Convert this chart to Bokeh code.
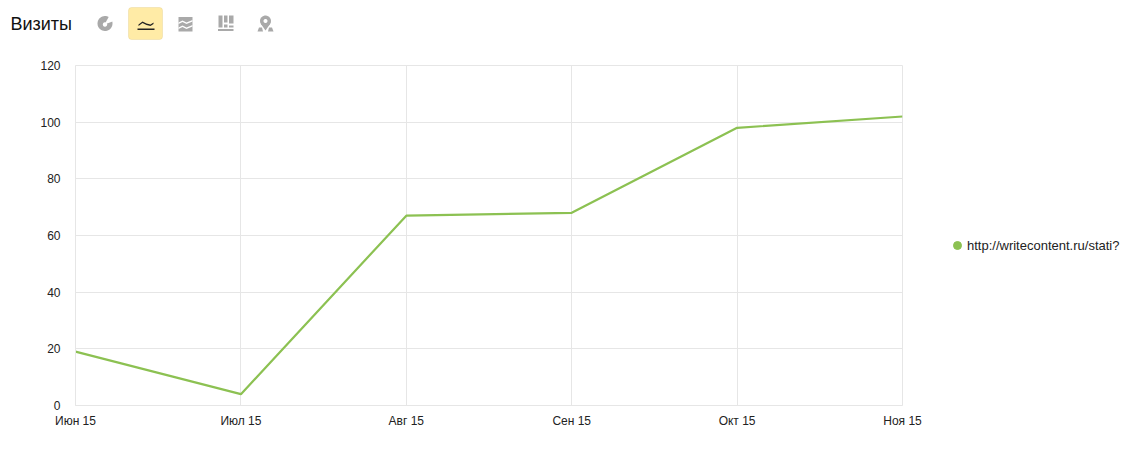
from bokeh.plotting import figure
from bokeh.models import Range1d, FixedTicker, Legend, LegendItem, BoxAnnotation
from bokeh.core.properties import value
from bokeh.layouts import column, row
from bokeh.embed import file_html
from bokeh.resources import INLINE
import numpy as np

title = "Визиты"
months = ["Июн 15", "Июл 15", "Авг 15", "Сен 15", "Окт 15", "Ноя 15"]
visits = [19, 4, 67, 68, 98, 102]
y_ticks = [0, 20, 40, 60, 80, 100, 120]
series_name = "http://writecontent.ru/stati?"

font = "Liberation Sans"
green = "#8cc152"
grid = "#e6e6e6"
icon_gray = "#a9a9a9"
dark = "#222222"

x = list(range(len(months)))

# main chart
p = figure(width=930, height=400, output_backend="svg", toolbar_location=None,
           x_range=Range1d(0, len(months) - 1), y_range=Range1d(0, 120),
           min_border_left=75, min_border_right=28, min_border_top=15, min_border_bottom=45)
p.outline_line_color = grid

p.xaxis.ticker = FixedTicker(ticks=x)
p.xaxis.major_label_overrides = dict(zip(x, months))
p.yaxis.ticker = FixedTicker(ticks=y_ticks)
for ax in (p.xaxis[0], p.yaxis[0]):
    ax.axis_line_color = grid
    ax.major_tick_line_color = None
    ax.minor_tick_line_color = None
    ax.major_label_text_font = font
    ax.major_label_text_font_size = "12px"
    ax.major_label_text_color = dark
p.xaxis.major_label_standoff = 2
p.yaxis.major_label_standoff = 9
p.grid.grid_line_color = grid
p.grid.grid_line_width = 1

p.line(x, visits, line_color=green, line_width=2.2)

# legend sits in its own strip, the scatter's points are out of its range
side = figure(width=195, height=400, output_backend="svg", toolbar_location=None,
              x_range=Range1d(-20, -10), y_range=Range1d(-20, -10),
              x_axis_location=None, y_axis_location=None,
              min_border=0, outline_line_color=None)
side.grid.visible = False
dot = side.scatter(x, visits, fill_color=green, line_color=green)
legend = Legend(items=[LegendItem(label=series_name, renderers=[dot])],
                location=(17, 150), border_line_color=None, background_fill_alpha=0,
                label_text_font=font, label_text_font_size="13px", label_text_color=dark,
                glyph_width=20, glyph_height=20, label_standoff=0, padding=0, margin=0)
side.add_layout(legend, "center")

# header strip: coordinates are page pixels
h = figure(width=1125, height=50, output_backend="svg", toolbar_location=None,
           x_range=Range1d(0, 1125), y_range=Range1d(50, 0),
           x_axis_location=None, y_axis_location=None,
           min_border=0, outline_line_color=None)
h.grid.visible = False
h.text([10], [23], text=[title], text_font=value(font), text_font_size="18px",
       text_color="#111111", text_baseline="middle")
h.add_layout(BoxAnnotation(left=128, right=162, top=7, bottom=39, fill_color="#ffeba6",
                           fill_alpha=1, line_color="#dcc27c", line_width=1, border_radius=3,
                           level="underlay"))


def poly(xs, ys, color=icon_gray):
    h.patch(list(xs), list(ys), fill_color=color, line_color=None)


def box(l, r, t, b, color=icon_gray):
    h.quad(left=l, right=r, top=t, bottom=b, fill_color=color, line_color=None)


# pie icon
t = np.linspace(0, 2 * np.pi, 40)
poly(104.5 + 7.5 * np.cos(t), 23 + 7.5 * np.sin(t))
poly(104.5 + 2.2 * np.cos(t), 24 + 2.2 * np.sin(t), "#ffffff")
poly([104, 109, 113, 112], [24, 15, 17, 21], "#ffffff")

# line icon (active)
poly([138, 142, 146, 150, 153, 153, 150, 146, 142, 138],
     [24, 21, 23, 24, 22, 23.5, 25.5, 24.5, 22.5, 25.5], dark)
box(137, 154, 28, 29.5, dark)

# stacked area icon
box(178, 192, 16.5, 31)
for dy in (0, 5):
    poly([178, 182, 186, 192, 192, 186, 182, 178],
         [22 + dy, 20 + dy, 22 + dy, 19.5 + dy, 21 + dy, 23.5 + dy, 21.5 + dy, 23.5 + dy], "#ffffff")

# bar icon
box(218, 222, 15, 27)
box(223.5, 227, 15, 22)
box(223.5, 227, 24, 27)
box(228.5, 233, 15, 23)
box(228.5, 233, 25, 27)
box(217.5, 233, 28.5, 30.5)

# map pin icon
t = np.linspace(0, 2 * np.pi, 30)
poly(265 + 5.5 * np.cos(t), 20.5 + 5.5 * np.sin(t))
poly(265 + 2 * np.cos(t), 20.5 + 2 * np.sin(t), "#ffffff")
poly([260.5, 269.5, 265], [23.5, 23.5, 30])
poly([258.5, 261.5, 262.5, 257], [27, 27, 31, 31])
poly([268.5, 271.5, 273, 267.5], [27, 27, 31, 31])

page = column(h, row(p, side))
open("out.html", "w").write(file_html(page, INLINE))
